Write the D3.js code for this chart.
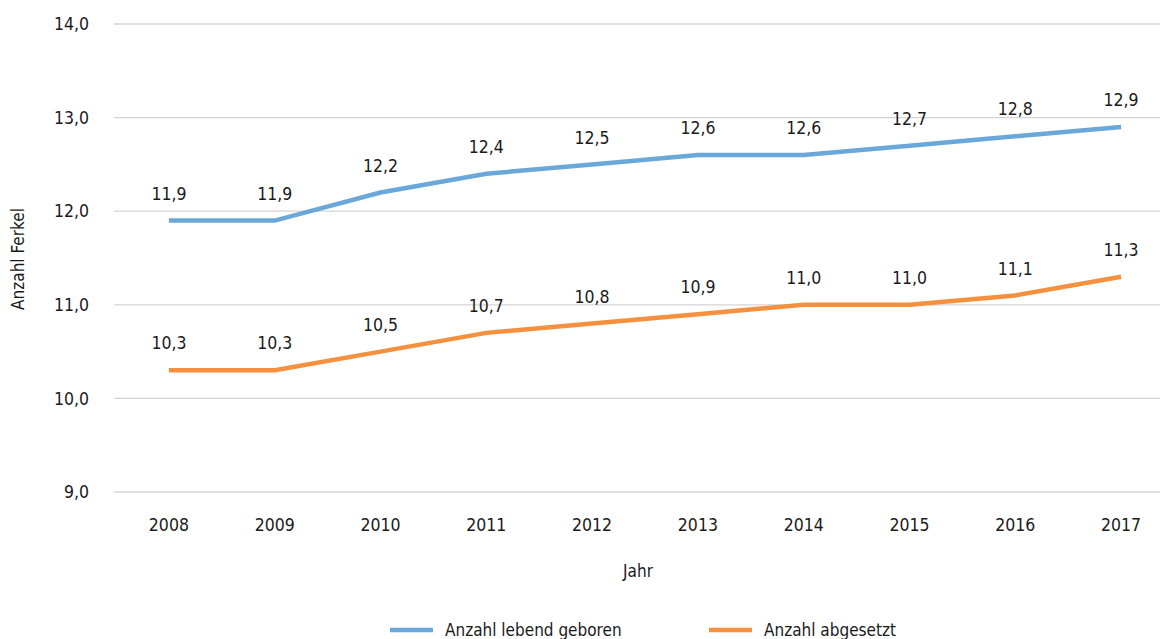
<!DOCTYPE html>
<html>
<head>
<meta charset="utf-8">
<script src="https://cdn.jsdelivr.net/npm/d3@7"></script>
<style>
  body { margin: 0; background: #fff; }
  svg text { font-family: "Liberation Sans Narrow", "DejaVu Sans Condensed", sans-serif; fill: #1a1a1a; }
  .num { font-family: "DejaVu Sans Condensed", "Liberation Sans Narrow", sans-serif; }
</style>
</head>
<body>
<script>
var years = ["2008", "2009", "2010", "2011", "2012", "2013", "2014", "2015", "2016", "2017"];
var lebendGeboren = [11.9, 11.9, 12.2, 12.4, 12.5, 12.6, 12.6, 12.7, 12.8, 12.9];
var abgesetzt = [10.3, 10.3, 10.5, 10.7, 10.8, 10.9, 11.0, 11.0, 11.1, 11.3];
var yTicks = [9, 10, 11, 12, 13, 14];
var seriesNames = ["Anzahl lebend geboren", "Anzahl abgesetzt"];
var seriesColors = ["#6aa8d9", "#f5913e"];

(function() {
	var width = 1160, height = 639;
	var left = 116, right = 1174, top = 24, bottom = 492;

	var svg = d3.select("body").append("svg")
		.attr("width", width).attr("height", height);

	var x = d3.scaleBand().domain(years).range([left, right]);
	var y = d3.scaleLinear().domain([9, 14]).range([bottom, top]);
	var fmt = function(v) { return d3.format(".1f")(v).replace(".", ","); };

	// grid
	svg.append("g").selectAll("line").data(yTicks).enter().append("line")
		.attr("x1", 114).attr("x2", width)
		.attr("y1", function(d) { return y(d); })
		.attr("y2", function(d) { return y(d); })
		.attr("stroke", "#d4d4d4").attr("stroke-width", 1.3);

	// y tick labels
	svg.append("g").selectAll("text").data(yTicks).enter().append("text")
		.attr("class", "num")
		.attr("x", 89).attr("y", function(d) { return y(d); })
		.attr("dy", "0.35em").attr("text-anchor", "end")
		.style("font-size", "17.5px")
		.text(fmt);

	// x tick labels
	svg.append("g").selectAll("text").data(years).enter().append("text")
		.attr("class", "num")
		.attr("x", function(d) { return x(d) + x.bandwidth() / 2; })
		.attr("y", 525).attr("dy", "0.35em").attr("text-anchor", "middle")
		.style("font-size", "17.5px")
		.text(function(d) { return d; });

	// axis titles
	svg.append("text").attr("x", 638).attr("y", 571).attr("dy", "0.35em")
		.attr("text-anchor", "middle").style("font-size", "17px").text("Jahr");
	svg.append("text")
		.attr("transform", "translate(18,259) rotate(-90)")
		.attr("dy", "0.35em").attr("text-anchor", "middle")
		.style("font-size", "17px").text("Anzahl Ferkel");

	var line = d3.line()
		.x(function(d, i) { return x(years[i]) + x.bandwidth() / 2; })
		.y(function(d) { return y(d); });

	[lebendGeboren, abgesetzt].forEach(function(values, s) {
		svg.append("path").datum(values)
			.attr("d", line)
			.attr("fill", "none")
			.attr("stroke", seriesColors[s])
			.attr("stroke-width", 4.5);

		svg.append("g").selectAll("text").data(values).enter().append("text")
			.attr("class", "num")
			.attr("x", function(d, i) { return x(years[i]) + x.bandwidth() / 2; })
			.attr("y", function(d) { return y(d) - 27; })
			.attr("dy", "0.35em").attr("text-anchor", "middle")
			.style("font-size", "17.5px")
			.text(fmt);
	});

	// legend
	var legendX = [390, 709];
	seriesNames.forEach(function(name, s) {
		var g = svg.append("g").attr("transform", "translate(" + legendX[s] + ",630)");
		g.append("line").attr("x1", 0).attr("x2", 43)
			.attr("stroke", seriesColors[s]).attr("stroke-width", 4.5);
		g.append("text").attr("x", 55).attr("dy", "0.35em")
			.style("font-size", "17px").text(name);
	});
})();
</script>
</body>
</html>
